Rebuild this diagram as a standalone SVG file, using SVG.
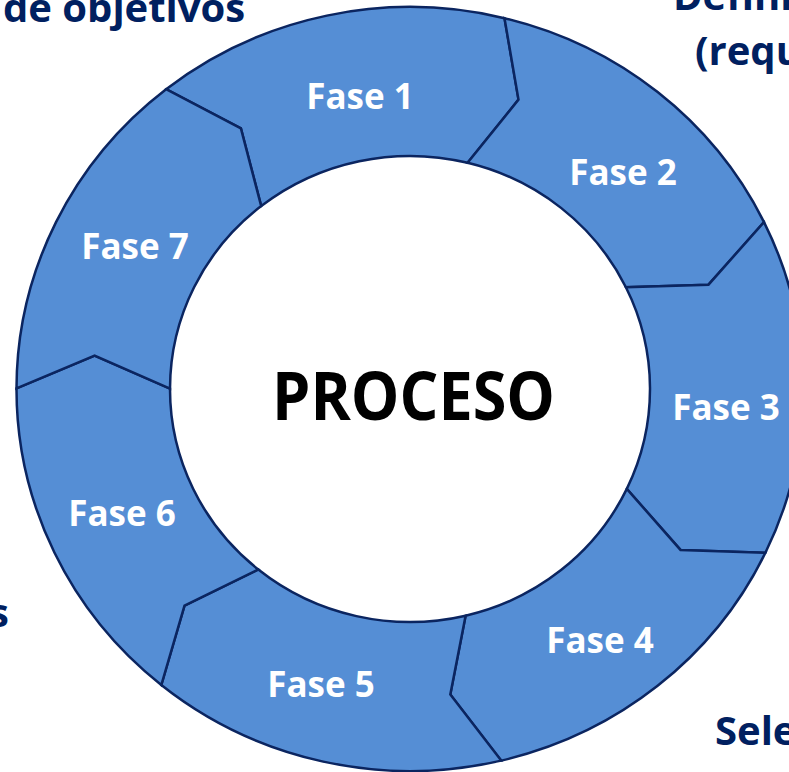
<svg xmlns="http://www.w3.org/2000/svg" width="789" height="772" viewBox="0 0 789 772">
<style>
.seg{fill:#558ED5;stroke:#0B2560;stroke-width:2.5;stroke-linejoin:miter}
.lbl{font-family:"Open Sans","Liberation Sans",sans-serif;font-weight:700;font-size:35px;fill:#FFFFFF;text-anchor:middle}
.ext{font-family:"Open Sans","Liberation Sans",sans-serif;font-weight:700;font-size:40px;fill:#002060}
.ctr{font-family:"Open Sans","Liberation Sans",sans-serif;font-weight:700;font-size:66px;fill:#000000;text-anchor:middle}
</style>
<rect width="789" height="772" fill="#FFFFFF"/>
<g id="fase1">
<path class="seg" d="M166.1,89.2 A393.46,382 0 0 1 504.5,18.2 L518.5,99.6 L467.6,162.8 A240,233 0 0 0 261.2,206.1 L240.9,128.4 Z"/>
<text class="lbl" x="360" y="109">Fase 1</text>
</g>
<g id="fase2">
<path class="seg" d="M504.5,18.2 A393.46,382 0 0 1 764.0,222.1 L708.5,284.7 L625.9,287.2 A240,233 0 0 0 467.6,162.8 L518.5,99.6 Z"/>
<text class="lbl" x="623" y="185">Fase 2</text>
</g>
<g id="fase3">
<path class="seg" d="M764.0,222.1 A393.46,382 0 0 1 765.4,552.8 L680.5,549.9 L626.8,488.9 A240,233 0 0 0 625.9,287.2 L708.5,284.7 Z"/>
<text class="lbl" x="726" y="420">Fase 3</text>
</g>
<g id="fase4">
<path class="seg" d="M765.4,552.8 A393.46,382 0 0 1 501.2,760.6 L450.3,694.5 L465.6,615.7 A240,233 0 0 0 626.8,488.9 L680.5,549.9 Z"/>
<text class="lbl" x="600" y="653">Fase 4</text>
</g>
<g id="fase5">
<path class="seg" d="M501.2,760.6 A393.46,382 0 0 1 161.3,685.0 L184.5,605.6 L258.3,569.5 A240,233 0 0 0 465.6,615.7 L450.3,694.5 Z"/>
<text class="lbl" x="321" y="697">Fase 5</text>
</g>
<g id="fase6">
<path class="seg" d="M161.3,685.0 A393.46,382 0 0 1 16.5,388.3 L94.6,355.7 L170.0,388.6 A240,233 0 0 0 258.3,569.5 L184.5,605.6 Z"/>
<text class="lbl" x="122" y="526">Fase 6</text>
</g>
<g id="fase7">
<path class="seg" d="M16.5,388.3 A393.46,382 0 0 1 166.1,89.2 L240.9,128.4 L261.2,206.1 A240,233 0 0 0 170.0,388.6 L94.6,355.7 Z"/>
<text class="lbl" x="135" y="259">Fase 7</text>
</g>
<g id="connectors"></g>
<g id="centro">
<text class="ctr" x="413.5" y="420" textLength="283" lengthAdjust="spacingAndGlyphs">PROCESO</text>
</g>
<g id="etiquetas">
<text class="ext" x="3" y="22">de objetivos</text>
<text class="ext" x="673" y="10">Defini</text>
<text class="ext" x="695" y="65">(requ</text>
<text class="ext" x="9" y="627" text-anchor="end">s</text>
<text class="ext" x="715" y="745">Sele</text>
</g>
</svg>
